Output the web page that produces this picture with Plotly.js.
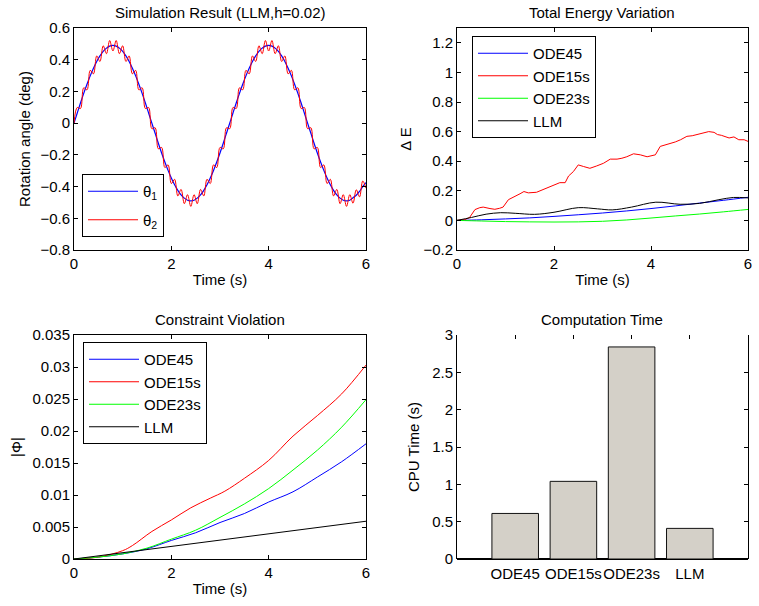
<!DOCTYPE html>
<html>
<head>
<meta charset="utf-8">
<script src="https://cdn.plot.ly/plotly-3.0.1.min.js"></script>
<style>html,body{margin:0;padding:0;background:#fff;}#chart{width:759px;height:606px;}</style>
</head>
<body>
<div id="chart"></div>
<script>
// ---- Panel 1: Simulation Result ----
const simTime = [0,0.067,0.133,0.2,0.267,0.333,0.4,0.467,0.533,0.6,0.667,0.733,0.8,0.867,0.933,1,1.067,1.133,1.2,1.267,1.333,1.4,1.467,1.533,1.6,1.667,1.733,1.8,1.867,1.933,2,2.067,2.133,2.2,2.267,2.333,2.4,2.467,2.533,2.6,2.667,2.733,2.8,2.867,2.933,3,3.067,3.133,3.2,3.267,3.333,3.4,3.467,3.533,3.6,3.667,3.733,3.8,3.867,3.933,4,4.067,4.133,4.2,4.267,4.333,4.4,4.467,4.533,4.6,4.667,4.733,4.8,4.867,4.933,5,5.067,5.133,5.2,5.267,5.333,5.4,5.467,5.533,5.6,5.667,5.733,5.8,5.867,5.933,6];
const theta1 = [0,0.064,0.127,0.188,0.245,0.298,0.346,0.389,0.424,0.453,0.473,0.486,0.49,0.486,0.473,0.453,0.424,0.389,0.346,0.298,0.245,0.188,0.127,0.064,0,-0.064,-0.127,-0.188,-0.245,-0.298,-0.346,-0.389,-0.424,-0.453,-0.473,-0.486,-0.49,-0.486,-0.473,-0.453,-0.424,-0.389,-0.346,-0.298,-0.245,-0.188,-0.127,-0.064,0,0.064,0.127,0.188,0.245,0.298,0.346,0.389,0.424,0.453,0.473,0.486,0.49,0.486,0.473,0.453,0.424,0.389,0.346,0.298,0.245,0.188,0.127,0.064,0,-0.064,-0.127,-0.188,-0.245,-0.298,-0.346,-0.389,-0.424,-0.453,-0.473,-0.486,-0.49,-0.486,-0.47,-0.455,-0.43,-0.4,-0.375];
const theta2 = [0,0.099,0.092,0.223,0.21,0.333,0.311,0.424,0.389,0.488,0.438,0.521,0.455,0.521,0.438,0.488,0.389,0.424,0.311,0.333,0.21,0.223,0.092,0.099,-0.035,-0.029,-0.162,-0.153,-0.28,-0.263,-0.381,-0.354,-0.459,-0.418,-0.508,-0.451,-0.525,-0.451,-0.508,-0.418,-0.459,-0.354,-0.381,-0.263,-0.28,-0.153,-0.162,-0.029,-0.035,0.099,0.092,0.223,0.21,0.333,0.311,0.424,0.389,0.488,0.438,0.521,0.455,0.521,0.438,0.488,0.389,0.424,0.311,0.333,0.21,0.223,0.092,0.099,-0.035,-0.029,-0.162,-0.153,-0.28,-0.263,-0.381,-0.354,-0.459,-0.418,-0.508,-0.451,-0.525,-0.451,-0.505,-0.42,-0.465,-0.365,-0.41];

// ---- Panel 2: Total Energy Variation ----
const eTimeSmooth = [0,0.5,1,1.5,2,2.5,3,3.5,4,4.5,5,5.5,6];
const energyODE45 = [0,0.004,0.01,0.017,0.027,0.038,0.05,0.064,0.08,0.098,0.117,0.136,0.156];
const energyODE23s = [0,-0.004,-0.008,-0.01,-0.011,-0.01,-0.006,0.003,0.016,0.03,0.043,0.058,0.074];
const eTimeLLM = [0,0.3,0.6,0.9,1.2,1.6,2,2.5,2.9,3.2,3.6,4.1,4.6,5,5.4,5.7,6];
const energyLLM = [0,0.02,0.042,0.052,0.048,0.041,0.055,0.086,0.078,0.071,0.09,0.123,0.109,0.115,0.14,0.155,0.152];
const eTime15s = [0,0.16,0.26,0.37,0.47,0.54,0.68,0.78,0.88,0.95,1.06,1.16,1.3,1.38,1.47,1.64,1.78,1.92,2.05,2.12,2.23,2.3,2.4,2.5,2.61,2.74,2.88,3.02,3.16,3.3,3.4,3.5,3.64,3.78,3.92,4.09,4.19,4.3,4.4,4.5,4.61,4.74,4.85,4.95,5.08,5.19,5.3,5.37,5.45,5.5,5.61,5.71,5.81,5.92,6];
const energyODE15s = [0,0.005,0.02,0.073,0.086,0.09,0.08,0.075,0.082,0.09,0.14,0.155,0.18,0.195,0.186,0.19,0.21,0.23,0.245,0.255,0.255,0.3,0.33,0.375,0.364,0.352,0.368,0.386,0.414,0.414,0.42,0.43,0.45,0.443,0.43,0.443,0.5,0.51,0.523,0.53,0.545,0.568,0.572,0.58,0.59,0.6,0.595,0.58,0.575,0.568,0.557,0.564,0.545,0.545,0.534];

// ---- Panel 3: Constraint Violation ----
const cTime = [0,0.5,1,1.2,1.6,2,2.4,2.8,3.1,3.5,4,4.5,5,5.5,6];
const phiODE15s = [0,0.0003,0.0013,0.0021,0.0043,0.0061,0.008,0.0095,0.0106,0.0126,0.0154,0.0192,0.0224,0.0258,0.0303];
const cTime2 = [0,0.5,1,1.5,2,2.5,3,3.5,4,4.5,5,5.5,6];
const phiODE23s = [0,0.0003,0.0008,0.0017,0.0031,0.0045,0.0065,0.0086,0.011,0.0139,0.017,0.0206,0.0249];
const phiODE45 = [0,0.0003,0.0008,0.0016,0.0029,0.0041,0.0057,0.0071,0.0089,0.0105,0.0128,0.0152,0.018];
const cTimeLLM = [0,0.2,0.4,0.6,0.8,1,1.2,1.4,1.6,1.8,2,2.2,2.4,2.6,2.8,3,3.2,3.4,3.6,3.8,4,4.2,4.4,4.6,4.8,5,5.2,5.4,5.6,5.8,6];
const phiLLM = [0,0.0002,0.0004,0.0006,0.0008,0.00095,0.0012,0.0013,0.0016,0.0017,0.002,0.0021,0.0024,0.0025,0.0028,0.0029,0.0032,0.0033,0.0036,0.0037,0.004,0.0041,0.0044,0.0045,0.0048,0.0049,0.0052,0.0053,0.0056,0.0057,0.0059];

// ---- Panel 4: Computation Time ----
const solvers = ['ODE45','ODE15s','ODE23s','LLM'];
const solverPos = [1,2,3,4];
const cpuTime = [0.61,1.04,2.84,0.41];

const FONT = 'Liberation Sans, Arial, Helvetica, sans-serif';
const FS = 15;
const W = 759, H = 606;
const px = v => v / W;
const py = v => 1 - v / H;

function ax(extra) {
  return Object.assign({
    showline: true, linecolor: '#000', linewidth: 1, mirror: 'ticks',
    ticks: 'inside', ticklen: 4, tickcolor: '#000', tickwidth: 1,
    showgrid: false, zeroline: false, fixedrange: true,
    tickfont: {family: FONT, size: FS, color: '#000'},
    automargin: false
  }, extra);
}
function ttl(text, standoff) {
  return {text: text, font: {family: FONT, size: FS, color: '#000'}, standoff: standoff};
}
function lg(x, y, gap) {
  return {x: x, y: y, xanchor: 'left', yanchor: 'top', bgcolor: '#fff',
    bordercolor: '#000', borderwidth: 1, font: {family: FONT, size: FS, color: '#000'},
    tracegroupgap: gap, itemwidth: 50};
}

const ln = (c) => ({color: c, width: 1});

const traces = [
  {x: simTime, y: theta1, type: 'scatter', mode: 'lines', name: 'θ<sub>1</sub>', line: {color: '#0000ff', width: 1.2, shape: 'spline'}, xaxis: 'x', yaxis: 'y', legend: 'legend', legendgroup: 'a1'},
  {x: simTime, y: theta2, type: 'scatter', mode: 'lines', name: 'θ<sub>2</sub>', line: {color: '#ff0000', width: 1, shape: 'spline'}, xaxis: 'x', yaxis: 'y', legend: 'legend', legendgroup: 'a2'},

  {x: eTimeSmooth, y: energyODE45, type: 'scatter', mode: 'lines', name: 'ODE45', line: Object.assign(ln('#0000ff'), {shape: 'spline'}), xaxis: 'x2', yaxis: 'y2', legend: 'legend2'},
  {x: eTime15s, y: energyODE15s, type: 'scatter', mode: 'lines', name: 'ODE15s', line: ln('#ff0000'), xaxis: 'x2', yaxis: 'y2', legend: 'legend2'},
  {x: eTimeSmooth, y: energyODE23s, type: 'scatter', mode: 'lines', name: 'ODE23s', line: Object.assign(ln('#00ff00'), {shape: 'spline'}), xaxis: 'x2', yaxis: 'y2', legend: 'legend2'},
  {x: eTimeLLM, y: energyLLM, type: 'scatter', mode: 'lines', name: 'LLM', line: Object.assign(ln('#000000'), {shape: 'spline'}), xaxis: 'x2', yaxis: 'y2', legend: 'legend2'},

  {x: cTime2, y: phiODE45, type: 'scatter', mode: 'lines', name: 'ODE45', line: Object.assign(ln('#0000ff'), {shape: 'spline'}), xaxis: 'x3', yaxis: 'y3', legend: 'legend3'},
  {x: cTime, y: phiODE15s, type: 'scatter', mode: 'lines', name: 'ODE15s', line: Object.assign(ln('#ff0000'), {shape: 'spline'}), xaxis: 'x3', yaxis: 'y3', legend: 'legend3'},
  {x: cTime2, y: phiODE23s, type: 'scatter', mode: 'lines', name: 'ODE23s', line: Object.assign(ln('#00ff00'), {shape: 'spline'}), xaxis: 'x3', yaxis: 'y3', legend: 'legend3'},
  {x: cTimeLLM, y: phiLLM, type: 'scatter', mode: 'lines', name: 'LLM', line: ln('#000000'), xaxis: 'x3', yaxis: 'y3', legend: 'legend3'},

  {x: solverPos, y: cpuTime, type: 'bar', width: 0.8, marker: {color: '#d4d0c8', line: {color: '#111', width: 1}}, xaxis: 'x4', yaxis: 'y4', showlegend: false, hoverinfo: 'skip'}
];

const topDom = [py(250), py(28)];
const botDom = [py(559), py(335)];
const leftDom = [px(74), px(366)];
const rightDom = [px(457), px(748)];

const layout = {
  width: W, height: H,
  margin: {l: 0, r: 0, t: 0, b: 0, pad: 0},
  paper_bgcolor: '#fff', plot_bgcolor: '#fff',
  font: {family: FONT, size: FS, color: '#000'},
  bargap: 0,
  xaxis: ax({domain: leftDom, anchor: 'y', range: [0, 6], tickvals: [0,2,4,6], title: ttl('Time (s)', 3)}),
  yaxis: ax({domain: topDom, anchor: 'x', range: [-0.8, 0.6], tickvals: [-0.8,-0.6,-0.4,-0.2,0,0.2,0.4,0.6], title: ttl('Rotation angle (deg)', 6)}),
  xaxis2: ax({domain: rightDom, anchor: 'y2', range: [0, 6], tickvals: [0,2,4,6], title: ttl('Time (s)', 3)}),
  yaxis2: ax({domain: topDom, anchor: 'x2', range: [-0.2, 1.3], tickvals: [-0.2,0,0.2,0.4,0.6,0.8,1,1.2], title: ttl('Δ E', 8)}),
  xaxis3: ax({domain: leftDom, anchor: 'y3', range: [0, 6], tickvals: [0,2,4,6], title: ttl('Time (s)', 3)}),
  yaxis3: ax({domain: botDom, anchor: 'x3', range: [0, 0.035], tickvals: [0,0.005,0.01,0.015,0.02,0.025,0.03,0.035], title: ttl('|Φ|', 6)}),
  xaxis4: ax({domain: rightDom, anchor: 'y4', range: [0, 5], tickvals: solverPos, ticktext: solvers, tickangle: 0, showline: false, mirror: 'ticks', ticks: 'inside', layer: 'below traces', ticklabelstandoff: 4}),
  yaxis4: ax({domain: botDom, anchor: 'x4', range: [0, 3], tickvals: [0,0.5,1,1.5,2,2.5,3], title: ttl('CPU Time (s)', 8), zeroline: true, zerolinecolor: '#000', zerolinewidth: 1.5}),
  legend: lg(px(82), py(174), 6),
  legend2: lg(px(472), py(36), 0),
  legend3: lg(px(83), py(342), 0),
  annotations: [
    {text: 'Simulation Result (LLM,h=0.02)', x: px(220), y: py(12), xref: 'paper', yref: 'paper', showarrow: false, xanchor: 'center', yanchor: 'middle', font: {family: FONT, size: FS, color: '#000'}},
    {text: 'Total Energy Variation', x: px(602), y: py(12), xref: 'paper', yref: 'paper', showarrow: false, xanchor: 'center', yanchor: 'middle', font: {family: FONT, size: FS, color: '#000'}},
    {text: 'Constraint Violation', x: px(220), y: py(320), xref: 'paper', yref: 'paper', showarrow: false, xanchor: 'center', yanchor: 'middle', font: {family: FONT, size: FS, color: '#000'}},
    {text: 'Computation Time', x: px(602), y: py(320), xref: 'paper', yref: 'paper', showarrow: false, xanchor: 'center', yanchor: 'middle', font: {family: FONT, size: FS, color: '#000'}}
  ]
};

Plotly.newPlot('chart', traces, layout, {staticPlot: true, displayModeBar: false});
</script>
</body>
</html>
